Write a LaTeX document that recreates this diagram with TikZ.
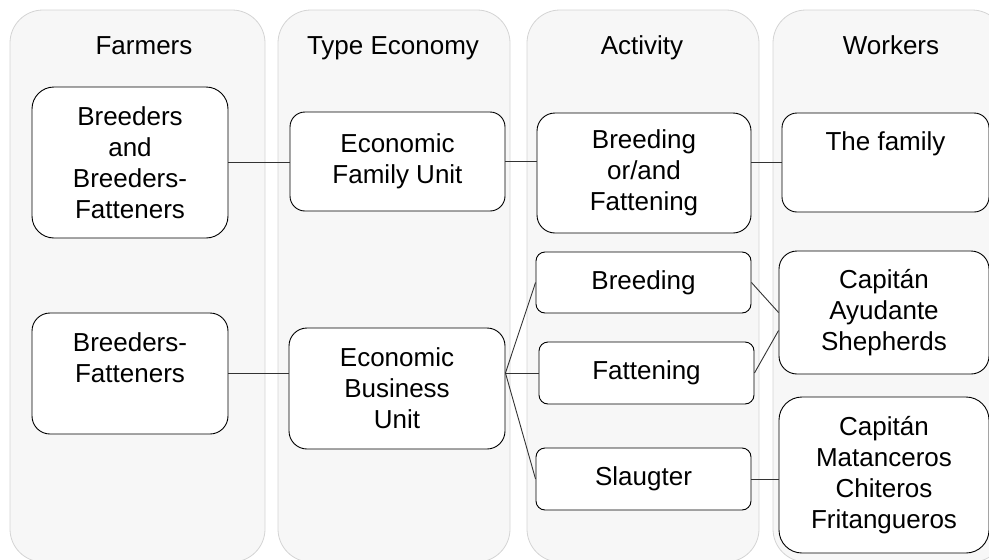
\documentclass[tikz,border=0pt]{standalone}
\usepackage{fontspec}
\setmainfont{Liberation Sans}
\usetikzlibrary{calc}
\definecolor{lanefill}{HTML}{F7F7F7}
\definecolor{laneline}{HTML}{D4D4D4}
\definecolor{wirecol}{HTML}{333333}
\begin{document}
\begin{tikzpicture}[x=1pt,y=-1pt,
 lane/.style={draw=laneline,fill=lanefill,line width=0.8pt,rounded corners=33pt},
 box/.style={draw=black,fill=white,line width=0.9pt,align=center,inner sep=0pt,font=\fontsize{26}{31}\selectfont},
 title/.style={anchor=base,font=\fontsize{26}{31}\selectfont},
 wire/.style={draw=wirecol,line width=0.9pt}]
\useasboundingbox (0,0) rectangle (989,560);
\begin{scope}
\clip (0,0) rectangle (989,560);
\draw[lane] (10,10) rectangle (265,562);
\draw[lane] (278,10) rectangle (510,562);
\draw[lane] (527,10) rectangle (759,562);
\draw[lane] (773,10) rectangle (1005,562);
\end{scope}
\node[title] (t1) at (144,54) {Farmers};
\node[title] (t2) at (393,54) {Type Economy};
\node[title] (t3) at (642,54) {Activity};
\node[title] (t4) at (891,54) {Workers};

\node[box,minimum width=196pt,minimum height=151pt,rounded corners=22pt] (bbf) at (130,162.5) {Breeders\\and\\Breeders-\\Fatteners};
\node[box,minimum width=215pt,minimum height=99pt,rounded corners=15pt] (efu) at (397.5,161.5) {Economic\\Family Unit};
\node[box,minimum width=214pt,minimum height=120pt,rounded corners=18pt] (bof) at (644,173) {Breeding\\or/and\\Fattening};
\node[box,minimum width=207pt,minimum height=99pt,rounded corners=15pt] (fam) at (885.5,162.5) {The family\\[12pt]\mbox{}};
\node[box,minimum width=196pt,minimum height=121pt,rounded corners=18pt] (bf) at (130,373.5) {Breeders-\\Fatteners\\\mbox{}};
\node[box,minimum width=216pt,minimum height=121pt,rounded corners=18pt] (ebu) at (397,388.5) {Economic\\Business\\Unit};
\node[box,minimum width=215pt,minimum height=61pt,rounded corners=9pt] (bre) at (643.5,282.5) {Breeding};
\node[box,minimum width=215pt,minimum height=62pt,rounded corners=9pt] (fat) at (646.5,373) {Fattening};
\node[box,minimum width=215pt,minimum height=62pt,rounded corners=9pt] (slg) at (643.5,479) {Slaugter};
\node[box,minimum width=210pt,minimum height=123pt,rounded corners=18pt] (cas) at (884,312.5) {Capitán\\Ayudante\\Shepherds};
\node[box,minimum width=210pt,minimum height=156pt,rounded corners=23pt] (cmcf) at (884,475) {Capitán\\Matanceros\\Chiteros\\Fritangueros};

\draw[wire] (bbf.east) -- (bbf.east -| efu.west);
\draw[wire] (efu.east) -- (efu.east -| bof.west);
\draw[wire] (fam.west -| bof.east) -- (fam.west);
\draw[wire] (bf.east) -- (bf.east -| ebu.west);
\coordinate (split) at (ebu.east |- fat.west);
\draw[wire] (split) -- (bre.west);
\draw[wire] (split) -- (fat.west);
\draw[wire] (split) -- (slg.west);
\draw[wire] (bre.east) -- (cas.west);
\draw[wire] (fat.east) -- ([yshift=-18pt]cas.west);
\draw[wire] (slg.east) -- (slg.east -| cmcf.west);
\end{tikzpicture}
\end{document}
